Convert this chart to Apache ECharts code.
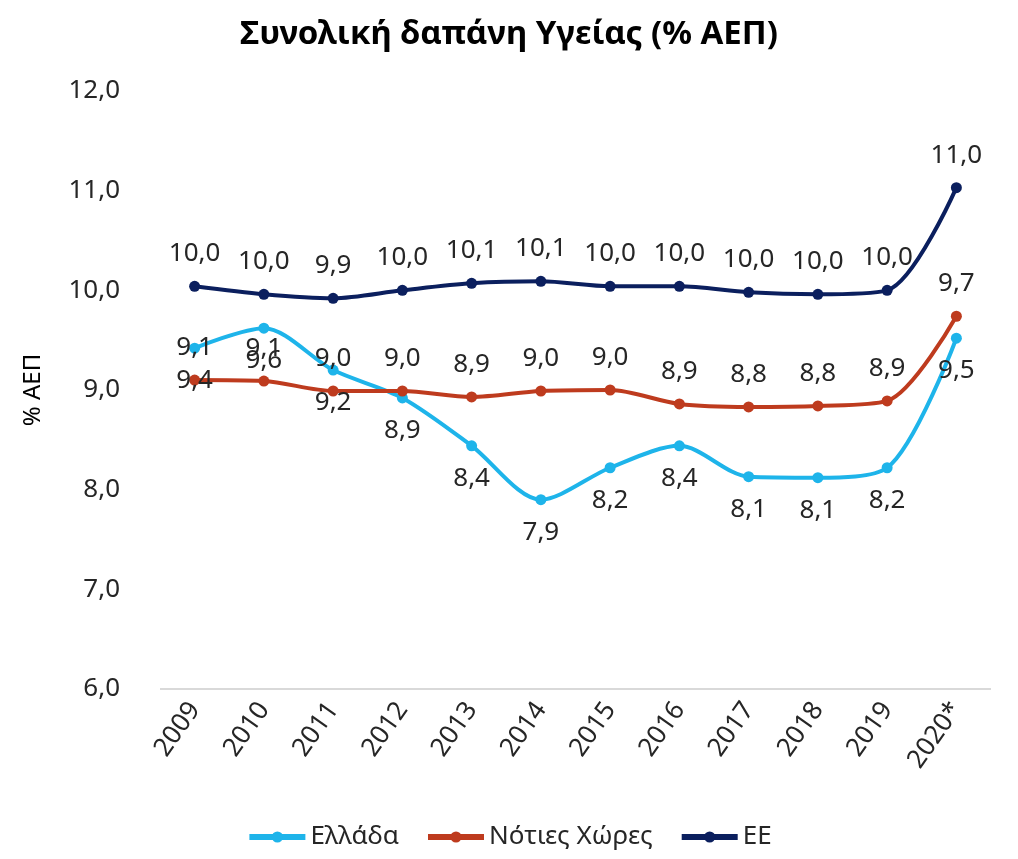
<!DOCTYPE html>
<html>
<head>
<meta charset="utf-8">
<script src="https://cdn.jsdelivr.net/npm/echarts@6/dist/echarts.min.js"></script>
<style>
  html, body { margin: 0; padding: 0; background: #fff; }
  #chart { width: 1018px; height: 859px; }
</style>
</head>
<body>
<div id="chart"></div>
<script>
// δεδομένα
const years = ['2009', '2010', '2011', '2012', '2013', '2014', '2015', '2016', '2017', '2018', '2019', '2020*']
const greece = [9.42, 9.62, 9.2, 8.92, 8.44, 7.9, 8.22, 8.44, 8.13, 8.12, 8.22, 9.52]
const south = [9.1, 9.09, 8.99, 8.99, 8.93, 8.99, 9.0, 8.86, 8.83, 8.84, 8.89, 9.74]
const eu = [10.04, 9.96, 9.92, 10.0, 10.07, 10.09, 10.04, 10.04, 9.98, 9.96, 10.0, 11.03]
const seriesNames = ['Ελλάδα', 'Νότιες Χώρες', 'ΕΕ']
const yTicks = [6, 7, 8, 9, 10, 11, 12]

const fmt = v => v.toFixed(1).replace('.', ',')
const font = 'Noto Sans'

function lineSeries (name, data, color, labelPos) {
  return {
    name: name,
    type: 'line',
    data: data,
    smooth: 0.3,
    symbol: 'circle',
    symbolSize: 11,
    lineStyle: { width: 4, color: color },
    itemStyle: { color: color },
    label: {
      show: true,
      position: labelPos,
      distance: 14,
      formatter: p => fmt(p.value),
      color: '#262626',
      fontFamily: font,
      fontSize: 26
    }
  }
}

const chart = echarts.init(document.getElementById('chart'))
chart.setOption({
  animation: false,
  title: {
    text: 'Συνολική δαπάνη Υγείας (% ΑΕΠ)',
    left: 'center',
    top: 13,
    textStyle: { fontFamily: font, fontSize: 33, fontWeight: 'bold', color: '#000' }
  },
  grid: { left: 160, right: 27, top: 91, bottom: 170 },
  legend: {
    bottom: 4,
    left: 'center',
    itemWidth: 56,
    itemHeight: 14,
    itemGap: 26,
    lineStyle: { width: 6 },
    data: seriesNames,
    textStyle: { fontFamily: font, fontSize: 26, color: '#262626' }
  },
  xAxis: {
    type: 'category',
    data: years,
    boundaryGap: true,
    axisLine: { show: false },
    axisTick: { show: false },
    axisLabel: {
      rotate: 55,
      margin: 16,
      fontFamily: font,
      fontSize: 26,
      color: '#262626'
    }
  },
  yAxis: {
    type: 'value',
    min: yTicks[0],
    max: yTicks[yTicks.length - 1],
    interval: 1,
    name: '% ΑΕΠ',
    nameLocation: 'middle',
    nameRotate: 90,
    nameGap: 115,
    nameTextStyle: { fontFamily: font, fontSize: 24, color: '#000' },
    axisLine: { show: false },
    axisTick: { show: false },
    splitLine: { show: false },
    axisLabel: {
      margin: 40,
      formatter: v => fmt(v),
      fontFamily: font,
      fontSize: 26,
      color: '#262626'
    }
  },
  series: [
    lineSeries(seriesNames[0], greece, '#1EB4EA', 'bottom'),
    lineSeries(seriesNames[1], south, '#BE3B1E', 'top'),
    lineSeries(seriesNames[2], eu, '#0B1F5E', 'top'),
    {
      type: 'line',
      data: [],
      markLine: {
        silent: true,
        symbol: 'none',
        label: { show: false },
        lineStyle: { color: '#D9D9D9', width: 2, type: 'solid' },
        data: [{ yAxis: yTicks[0] }]
      }
    }
  ]
})
</script>
</body>
</html>
